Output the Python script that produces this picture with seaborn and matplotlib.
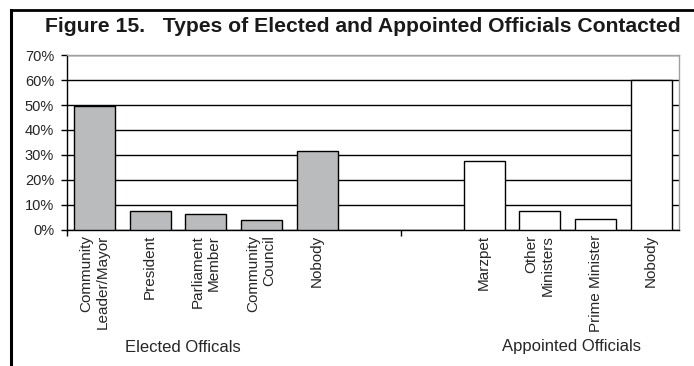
import matplotlib
matplotlib.use("Agg")
import matplotlib.pyplot as plt
from matplotlib.lines import Line2D
from matplotlib.ticker import FixedLocator
import pandas as pd
import seaborn as sns

# Survey shares (percent of respondents)
elected_labels = ["Community\nLeader/Mayor", "President", "Parliament\nMember",
                  "Community\nCouncil", "Nobody"]
elected_values = [49.5, 7.3, 6.2, 3.9, 31.4]
appointed_labels = ["Marzpet", "Other\nMinisters", "Prime Minister", "Nobody"]
appointed_values = [27.5, 7.3, 4.3, 60.0]
group_names = ["Elected Officals", "Appointed Officials"]
y_ticks = [0, 10, 20, 30, 40, 50, 60, 70]
y_tick_labels = ["0%", "10%", "20%", "30%", "40%", "50%", "60%", "70%"]
title = "Figure 15.   Types of Elected and Appointed Officials Contacted"

sns.set_theme(style="white")
plt.rcParams["font.family"] = ["Liberation Sans", "DejaVu Sans"]

# unique keys per slot, two empty slots separate the groups
e_keys = [f"e{i}" for i in range(len(elected_labels))]
a_keys = [f"a{i}" for i in range(len(appointed_labels))]
gap_keys = ["gap0", "gap1"]
order = e_keys + gap_keys + a_keys
tick_labels = elected_labels + ["", ""] + appointed_labels

df = pd.DataFrame({
    "slot": e_keys + a_keys,
    "value": elected_values + appointed_values,
    "group": [group_names[0]] * len(e_keys) + [group_names[1]] * len(a_keys),
})

fig = plt.figure(figsize=(6.94, 3.66), dpi=100)
ax = fig.add_axes([66.7 / 694, 1 - 229.5 / 366, (679 - 66.7) / 694, (229.5 - 55.3) / 366])

sns.barplot(data=df, x="slot", y="value", hue="group", order=order,
            palette={group_names[0]: "#B8BBBE", group_names[1]: "white"},
            dodge=False, width=0.74, edgecolor="black", linewidth=1.0,
            legend=False, ax=ax, zorder=3)

ax.set_xlim(-0.5, len(order) - 0.5)
ax.set_ylim(0, 70)
ax.set_axisbelow(True)
ax.set_yticks(y_ticks)
ax.set_yticklabels(y_tick_labels, fontsize=10.5)
ax.yaxis.grid(True, color="black", linewidth=1.0)
ax.set_xlabel("")
ax.set_ylabel("")

ax.set_xticks(range(len(order)))
ax.set_xticklabels(tick_labels, rotation=90, fontsize=11, ha="center",
                   va="top", multialignment="right", linespacing=1.2)
ax.tick_params(axis="x", which="major", length=0, pad=4)
ax.xaxis.set_minor_locator(FixedLocator([-0.5, len(e_keys) + 0.5]))
ax.tick_params(axis="x", which="minor", bottom=True, length=4, width=1, color="black", direction="out")
ax.tick_params(axis="y", left=True, length=4, width=1, color="black", direction="out", pad=5)

for side in ["left", "bottom"]:
    ax.spines[side].set_color("black")
    ax.spines[side].set_linewidth(1.0)
for side in ["top", "right"]:
    ax.spines[side].set_color("#A0A0A0")
    ax.spines[side].set_linewidth(1.0)

# group captions under the category labels
fig.text(183 / 694, 1 - 347 / 366, group_names[0], ha="center", va="center", fontsize=12)
fig.text(572 / 694, 1 - 347 / 366, group_names[1], ha="center", va="center", fontsize=12)

fig.text(45 / 694, 1 - 27 / 366, title, ha="left", va="center",
         fontsize=15.2, fontweight="bold", color="#1a1a1a")

# heavy frame along the top and left edges
fig.add_artist(Line2D([10.5 / 694, 10.5 / 694], [0, 1 - 9.5 / 366], transform=fig.transFigure,
                      color="black", linewidth=2.2, solid_capstyle="projecting"))
fig.add_artist(Line2D([10.5 / 694, 1.0], [1 - 9.5 / 366, 1 - 9.5 / 366], transform=fig.transFigure,
                      color="black", linewidth=2.0, solid_capstyle="projecting"))

fig.savefig("out.png", dpi=100)
